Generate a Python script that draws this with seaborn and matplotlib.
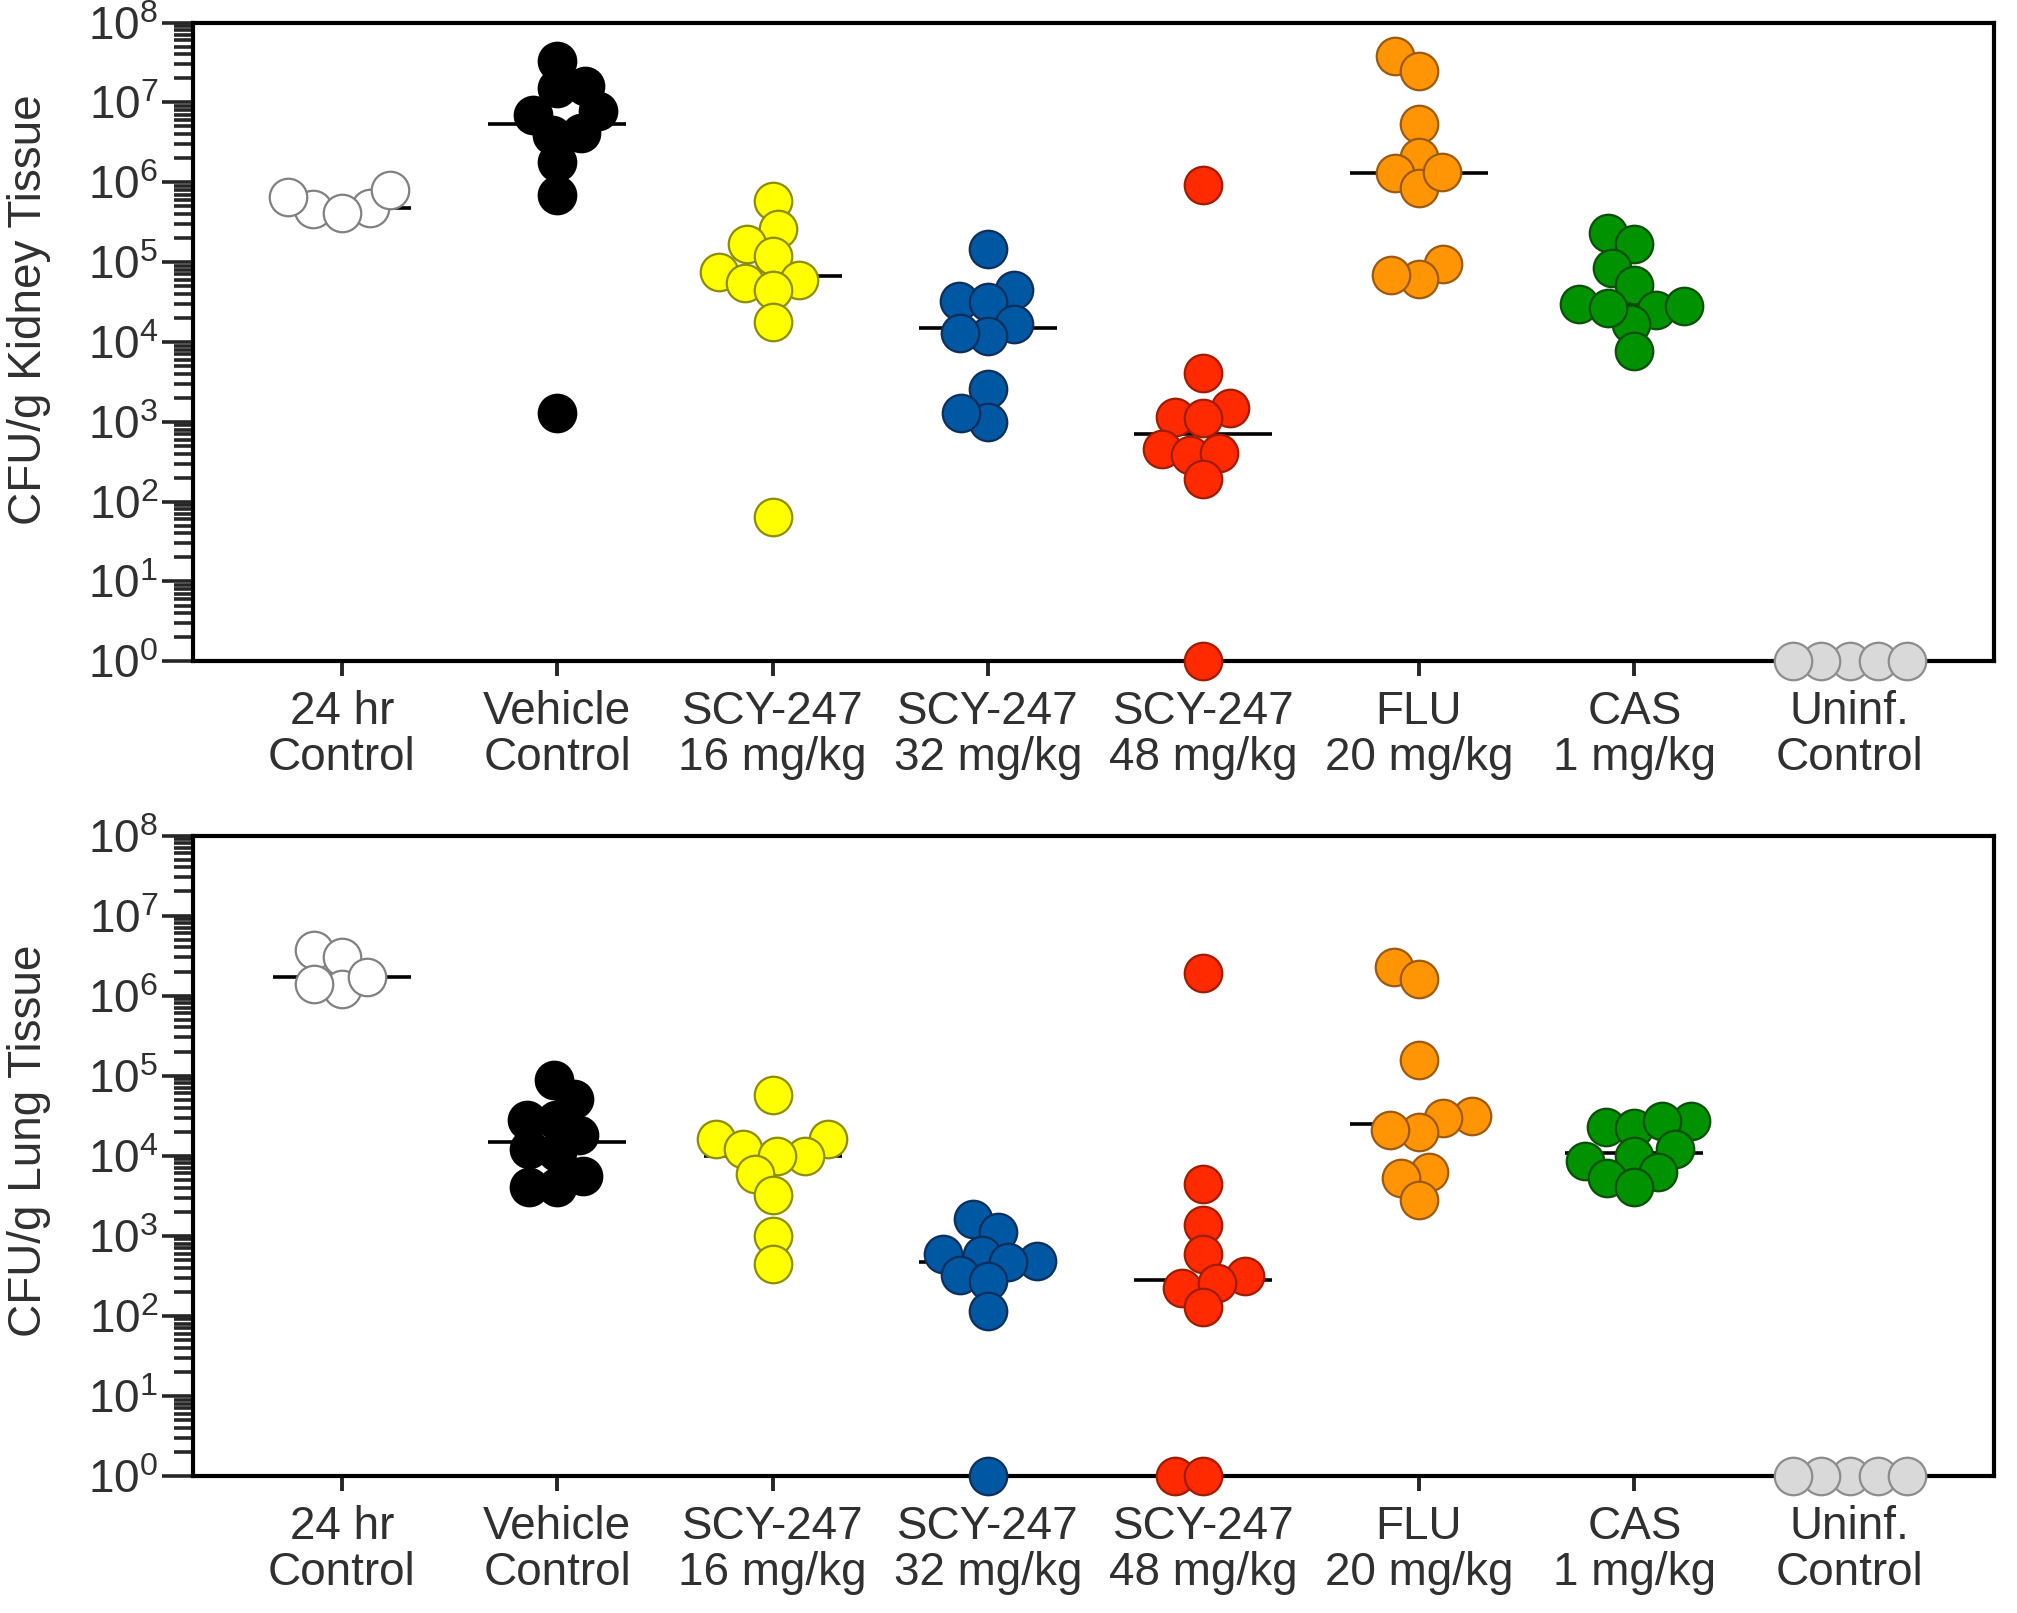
import warnings

import numpy as np
import pandas as pd
import matplotlib

matplotlib.use("Agg")
import matplotlib.pyplot as plt
import seaborn as sns
from matplotlib.ticker import LogLocator, NullLocator

warnings.filterwarnings("ignore", category=UserWarning)

groups = [
    "24 hr\nControl",
    "Vehicle\nControl",
    "SCY-247\n16 mg/kg",
    "SCY-247\n32 mg/kg",
    "SCY-247\n48 mg/kg",
    "FLU\n20 mg/kg",
    "CAS\n1 mg/kg",
    "Uninf.\nControl",
]

# CFU/g kidney tissue
kidney_24hr = [4.7e5, 8.1e5, 4.6e5, 6.5e5, 4.1e5]
kidney_vehicle = [3.3e7, 1.5e7, 1.6e7, 7.9e6, 6.9e6, 4.2e6, 3.9e6, 1.8e6, 6.9e5, 1.3e3]
kidney_scy16 = [5.9e5, 2.6e5, 1.7e5, 1.2e5, 7.6e4, 5.5e4, 5.9e4, 4.5e4, 1.8e4, 65]
kidney_scy32 = [1.45e5, 4.5e4, 3.3e4, 3.2e4, 1.7e4, 1.2e4, 1.3e4, 2.6e3, 1.0e3, 1.3e3]
kidney_scy48 = [9.3e5, 4.1e3, 1.5e3, 1.15e3, 1.1e3, 460, 380, 410, 190, 1]
kidney_flu = [3.8e7, 2.5e7, 5.4e6, 2.1e6, 1.3e6, 8.5e5, 1.35e6, 9.5e4, 6.2e4, 6.9e4]
kidney_cas = [2.3e5, 1.7e5, 8.5e4, 5.2e4, 3.0e4, 2.5e4, 1.7e4, 2.7e4, 2.8e4, 7.8e3]
kidney_uninf = [1, 1, 1, 1, 1]

# CFU/g lung tissue
lung_24hr = [3.7e6, 3.0e6, 1.2e6, 1.4e6, 1.7e6]
lung_vehicle = [8.9e4, 5.1e4, 2.8e4, 2.8e4, 1.8e4, 1.2e4, 1.1e4, 5.6e3, 4.1e3, 4.1e3]
lung_scy16 = [5.8e4, 1.6e4, 1.6e4, 1.0e4, 1.2e4, 9.8e3, 5.9e3, 3.2e3, 1.0e3, 450]
lung_scy32 = [1.6e3, 1.1e3, 600, 480, 580, 470, 320, 270, 115, 1]
lung_scy48 = [1.9e6, 4.4e3, 1.35e3, 600, 310, 220, 260, 130, 1, 1]
lung_flu = [2.3e6, 1.6e6, 1.55e5, 3.1e4, 3.0e4, 2.0e4, 2.1e4, 6.3e3, 5.2e3, 2.8e3]
lung_cas = [2.3e4, 2.2e4, 2.75e4, 2.7e4, 1.2e4, 1.0e4, 8.5e3, 5.2e3, 6.3e3, 4.1e3]
lung_uninf = [1, 1, 1, 1, 1]

fill_colors = ["white", "black", "#FFFF00", "#0058A3", "#FF2A00", "#FF9505", "#009200", "#D9D9D9"]
edge_colors = ["#808080", "black", "#8C8C00", "#0E2F5C", "#A01C00", "#9C5A10", "#0B4F0B", "#8C8C8C"]

TEXT = "#303030"
SWARM_SIZE = 18  # spacing used to lay out the swarm
MARKER_SIZE = 27  # size actually drawn (Prism-style overlap)


def draw_panel(ax, values, ylabel, label_y):
    df = pd.DataFrame(
        {
            "group": np.repeat(groups, [len(v) for v in values]),
            "cfu": np.concatenate(values),
        }
    )
    ax.set_yscale("log")
    for name, fill, edge in zip(groups, fill_colors, edge_colors):
        sns.swarmplot(
            data=df[df["group"] == name],
            x="group",
            y="cfu",
            order=groups,
            color=fill,
            edgecolor=edge,
            linewidth=1.6,
            size=SWARM_SIZE,
            ax=ax,
        )
    # median line per group, sits behind the dots
    sns.pointplot(
        data=df,
        x="group",
        y="cfu",
        order=groups,
        estimator="median",
        errorbar=None,
        color="black",
        marker="_",
        markersize=100,
        markeredgewidth=2.6,
        linestyle="none",
        ax=ax,
    )
    for coll in ax.collections:
        coll.set_clip_on(False)
        coll.set_zorder(3)
    for line in ax.lines:
        line.set_clip_on(False)
        line.set_zorder(2)

    ax.set_xlim(-0.69, 7.67)
    ax.set_ylim(1, 1e8)
    ax.yaxis.set_major_locator(LogLocator(base=10, numticks=20))
    ax.yaxis.set_minor_locator(LogLocator(base=10, subs=np.arange(2, 10), numticks=20))
    ax.xaxis.set_minor_locator(NullLocator())

    ax.tick_params(axis="y", which="major", length=22, width=2.6, labelsize=33,
                   pad=3, labelcolor=TEXT)
    ax.tick_params(axis="y", which="minor", length=14, width=2.6)
    ax.tick_params(axis="x", which="major", length=11, width=2.8, labelsize=33,
                   pad=10, labelcolor=TEXT)
    for lbl in ax.get_xticklabels():
        lbl.set_linespacing(1.05)

    for spine in ax.spines.values():
        spine.set_visible(True)
        spine.set_linewidth(3)
        spine.set_color("black")

    ax.set_xlabel("")
    ax.set_ylabel(ylabel, fontsize=33, color=TEXT)
    ax.yaxis.set_label_coords(-0.079, label_y)


sns.set_theme(style="ticks")
plt.rcParams["font.family"] = ["Liberation Sans", "DejaVu Sans"]

fig = plt.figure(figsize=(20.17, 16.13), dpi=100)
ax_kidney = fig.add_axes([0.0957, 0.590, 0.893, 0.396])
ax_lung = fig.add_axes([0.0957, 0.085, 0.893, 0.397])

draw_panel(
    ax_kidney,
    [kidney_24hr, kidney_vehicle, kidney_scy16, kidney_scy32,
     kidney_scy48, kidney_flu, kidney_cas, kidney_uninf],
    "CFU/g Kidney Tissue",
    0.551,
)
draw_panel(
    ax_lung,
    [lung_24hr, lung_vehicle, lung_scy16, lung_scy32,
     lung_scy48, lung_flu, lung_cas, lung_uninf],
    "CFU/g Lung Tissue",
    0.523,
)

# let seaborn lay the swarms out once, then freeze them and enlarge the dots
fig.canvas.draw()
for ax in (ax_kidney, ax_lung):
    for coll in ax.collections:
        coll.__dict__.pop("draw", None)
        coll.set_sizes([MARKER_SIZE ** 2])

fig.savefig("out.png", dpi=100, facecolor="white")
